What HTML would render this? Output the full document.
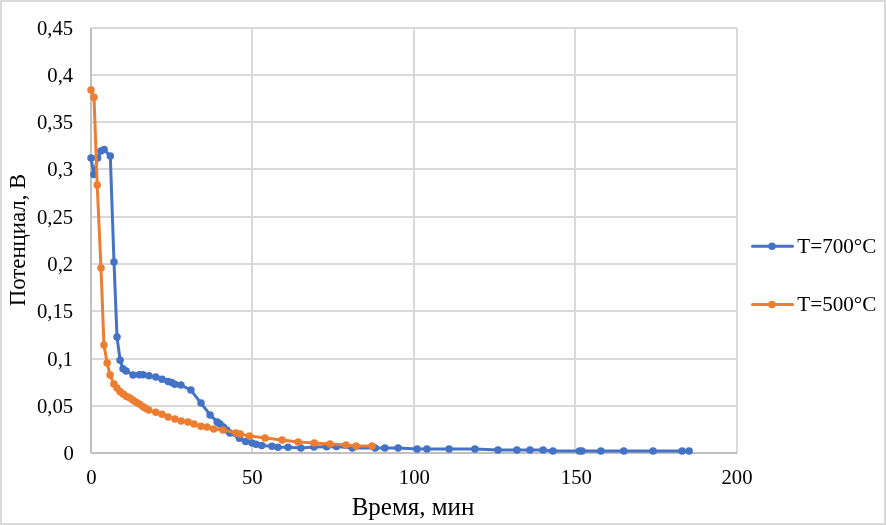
<!DOCTYPE html>
<html lang="ru">
<head>
<meta charset="utf-8">
<title>Потенциал — Время</title>
<style>
html,body{margin:0;padding:0;background:#fff;}
body{width:886px;height:525px;overflow:hidden;}
svg{display:block;will-change:transform;}
.txt{filter:grayscale(1);}
text{font-family:"Liberation Serif",serif;fill:#000;}
.lab{font-size:20.7px;}
.xt{font-size:25px;}
.yt{font-size:22.8px;}
</style>
</head>
<body>
<svg width="886" height="525" viewBox="0 0 886 525">
<rect x="0" y="0" width="886" height="525" fill="#ffffff"/>
<rect x="1" y="1" width="884" height="523" fill="none" stroke="#d9d9d9" stroke-width="2"/>
<rect x="0" y="0" width="1" height="1" fill="#e6e6e6"/>
<g stroke="#d9d9d9" stroke-width="2" fill="none">
<line x1="91" y1="28" x2="737" y2="28"/>
<line x1="91" y1="75" x2="737" y2="75"/>
<line x1="91" y1="122" x2="737" y2="122"/>
<line x1="91" y1="169" x2="737" y2="169"/>
<line x1="91" y1="217" x2="737" y2="217"/>
<line x1="91" y1="264" x2="737" y2="264"/>
<line x1="91" y1="311" x2="737" y2="311"/>
<line x1="91" y1="359" x2="737" y2="359"/>
<line x1="91" y1="406" x2="737" y2="406"/>
<line x1="252" y1="27" x2="252" y2="453"/>
<line x1="414" y1="27" x2="414" y2="453"/>
<line x1="575" y1="27" x2="575" y2="453"/>
<line x1="737" y1="28" x2="737" y2="453"/>
</g>
<g stroke="#bfbfbf" stroke-width="2" fill="none">
<line x1="91" y1="28" x2="91" y2="453"/>
<line x1="91" y1="453" x2="737" y2="453"/>
</g>
<g fill="#4472c4" stroke="none">
<polyline points="91,158 93.9,174.5 97.6,158 100.9,151 104.1,149.6 110.3,156 114,262.1 117,337.05 120.1,360.2 123,368.8 126.1,370.9 133,375 139.2,374.8 143,374.8 149,375.8 155.8,377 162.1,379.3 168.1,381.6 171.8,382.5 174.9,384.2 180.9,385 190.9,390.1 201,403.1 210.1,414.9 217.2,421.9 220,424 223.4,426.9 226.7,430 229.9,433.1 239.4,438.3 245.7,441.4 252,442.9 256,444.3 261.7,445.4 272,446.3 277.9,447.2 288,447.2 300.9,448.1 314,447 326.6,446.8 336.3,446.5 352.3,448.1 375.1,448.1 384.8,448 398.1,448 417.1,448.9 426.9,448.9 449.1,448.9 474.9,448.9 498,450.1 516.9,450.1 530,450.1 543.1,450.1 552.9,451 579.4,451 581.9,451 600.9,451 623.8,451 653.1,451 682.1,451 689.1,451" fill="none" stroke="#4472c4" stroke-width="3" stroke-linejoin="round" stroke-linecap="round"/>
<circle cx="91" cy="158" r="3.75"/><circle cx="93.9" cy="174.5" r="3.75"/><circle cx="97.6" cy="158" r="3.75"/><circle cx="100.9" cy="151" r="3.75"/><circle cx="104.1" cy="149.6" r="3.75"/><circle cx="110.3" cy="156" r="3.75"/><circle cx="114" cy="262.1" r="3.75"/><circle cx="117" cy="337.05" r="3.75"/><circle cx="120.1" cy="360.2" r="3.75"/><circle cx="123" cy="368.8" r="3.75"/><circle cx="126.1" cy="370.9" r="3.75"/><circle cx="133" cy="375" r="3.75"/><circle cx="139.2" cy="374.8" r="3.75"/><circle cx="143" cy="374.8" r="3.75"/><circle cx="149" cy="375.8" r="3.75"/><circle cx="155.8" cy="377" r="3.75"/><circle cx="162.1" cy="379.3" r="3.75"/><circle cx="168.1" cy="381.6" r="3.75"/><circle cx="171.8" cy="382.5" r="3.75"/><circle cx="174.9" cy="384.2" r="3.75"/><circle cx="180.9" cy="385" r="3.75"/><circle cx="190.9" cy="390.1" r="3.75"/><circle cx="201" cy="403.1" r="3.75"/><circle cx="210.1" cy="414.9" r="3.75"/><circle cx="217.2" cy="421.9" r="3.75"/><circle cx="220" cy="424" r="3.75"/><circle cx="223.4" cy="426.9" r="3.75"/><circle cx="226.7" cy="430" r="3.75"/><circle cx="229.9" cy="433.1" r="3.75"/><circle cx="239.4" cy="438.3" r="3.75"/><circle cx="245.7" cy="441.4" r="3.75"/><circle cx="252" cy="442.9" r="3.75"/><circle cx="256" cy="444.3" r="3.75"/><circle cx="261.7" cy="445.4" r="3.75"/><circle cx="272" cy="446.3" r="3.75"/><circle cx="277.9" cy="447.2" r="3.75"/><circle cx="288" cy="447.2" r="3.75"/><circle cx="300.9" cy="448.1" r="3.75"/><circle cx="314" cy="447" r="3.75"/><circle cx="326.6" cy="446.8" r="3.75"/><circle cx="336.3" cy="446.5" r="3.75"/><circle cx="352.3" cy="448.1" r="3.75"/><circle cx="375.1" cy="448.1" r="3.75"/><circle cx="384.8" cy="448" r="3.75"/><circle cx="398.1" cy="448" r="3.75"/><circle cx="417.1" cy="448.9" r="3.75"/><circle cx="426.9" cy="448.9" r="3.75"/><circle cx="449.1" cy="448.9" r="3.75"/><circle cx="474.9" cy="448.9" r="3.75"/><circle cx="498" cy="450.1" r="3.75"/><circle cx="516.9" cy="450.1" r="3.75"/><circle cx="530" cy="450.1" r="3.75"/><circle cx="543.1" cy="450.1" r="3.75"/><circle cx="552.9" cy="451" r="3.75"/><circle cx="579.4" cy="451" r="3.75"/><circle cx="581.9" cy="451" r="3.75"/><circle cx="600.9" cy="451" r="3.75"/><circle cx="623.8" cy="451" r="3.75"/><circle cx="653.1" cy="451" r="3.75"/><circle cx="682.1" cy="451" r="3.75"/><circle cx="689.1" cy="451" r="3.75"/>
</g>
<g fill="#ed7d31" stroke="none">
<polyline points="91,90.1 94,97.2 97.2,185.05 101,268.1 103.95,345.05 107.15,363.1 110.05,375 113.9,384 117,388.1 120.1,391.8 123.4,394.2 126.6,396.4 130,398.1 133.1,400.2 136.1,402.2 139.3,404 142.7,406.5 145.6,408.2 148.7,410.1 155.8,412.2 162,414.2 168.1,416.9 174.9,418.9 181.2,421.1 188,422 194,424.1 200.9,426.2 207,427 213.7,429 222.9,429.9 236,432.9 240.2,434.1 249.4,436 265.1,437.9 282.1,440 298.1,442 314.2,443 330,444.1 346,445.1 356.1,445.9 372.1,446.1" fill="none" stroke="#ed7d31" stroke-width="3" stroke-linejoin="round" stroke-linecap="round"/>
<circle cx="91" cy="90.1" r="3.75"/><circle cx="94" cy="97.2" r="3.75"/><circle cx="97.2" cy="185.05" r="3.75"/><circle cx="101" cy="268.1" r="3.75"/><circle cx="103.95" cy="345.05" r="3.75"/><circle cx="107.15" cy="363.1" r="3.75"/><circle cx="110.05" cy="375" r="3.75"/><circle cx="113.9" cy="384" r="3.75"/><circle cx="117" cy="388.1" r="3.75"/><circle cx="120.1" cy="391.8" r="3.75"/><circle cx="123.4" cy="394.2" r="3.75"/><circle cx="126.6" cy="396.4" r="3.75"/><circle cx="130" cy="398.1" r="3.75"/><circle cx="133.1" cy="400.2" r="3.75"/><circle cx="136.1" cy="402.2" r="3.75"/><circle cx="139.3" cy="404" r="3.75"/><circle cx="142.7" cy="406.5" r="3.75"/><circle cx="145.6" cy="408.2" r="3.75"/><circle cx="148.7" cy="410.1" r="3.75"/><circle cx="155.8" cy="412.2" r="3.75"/><circle cx="162" cy="414.2" r="3.75"/><circle cx="168.1" cy="416.9" r="3.75"/><circle cx="174.9" cy="418.9" r="3.75"/><circle cx="181.2" cy="421.1" r="3.75"/><circle cx="188" cy="422" r="3.75"/><circle cx="194" cy="424.1" r="3.75"/><circle cx="200.9" cy="426.2" r="3.75"/><circle cx="207" cy="427" r="3.75"/><circle cx="213.7" cy="429" r="3.75"/><circle cx="222.9" cy="429.9" r="3.75"/><circle cx="236" cy="432.9" r="3.75"/><circle cx="240.2" cy="434.1" r="3.75"/><circle cx="249.4" cy="436" r="3.75"/><circle cx="265.1" cy="437.9" r="3.75"/><circle cx="282.1" cy="440" r="3.75"/><circle cx="298.1" cy="442" r="3.75"/><circle cx="314.2" cy="443" r="3.75"/><circle cx="330" cy="444.1" r="3.75"/><circle cx="346" cy="445.1" r="3.75"/><circle cx="356.1" cy="445.9" r="3.75"/><circle cx="372.1" cy="446.1" r="3.75"/>
</g>
<g class="txt">
<g class="lab" text-anchor="end">
<text x="73.2" y="34.9">0,45</text>
<text x="73.2" y="81.9">0,4</text>
<text x="73.2" y="128.9">0,35</text>
<text x="73.2" y="175.9">0,3</text>
<text x="73.2" y="223.9">0,25</text>
<text x="73.2" y="270.9">0,2</text>
<text x="73.2" y="317.9">0,15</text>
<text x="73.2" y="365.9">0,1</text>
<text x="73.2" y="412.9">0,05</text>
<text x="73.9" y="459.9">0</text>
</g>
<g class="lab" text-anchor="middle">
<text x="91.3" y="483.6">0</text>
<text x="252.3" y="483.6">50</text>
<text x="414.3" y="483.6">100</text>
<text x="576.3" y="483.6">150</text>
<text x="737" y="483.6">200</text>
</g>
<text class="xt" text-anchor="middle" x="413" y="514.5">Время, мин</text>
<text class="yt" text-anchor="middle" transform="translate(25.0,240.0) rotate(-90)">Потенциал, В</text>
<text class="lab" x="797.3" y="252.6" textLength="79.1" lengthAdjust="spacingAndGlyphs">T=700°C</text>
<text class="lab" x="797.3" y="310.6" textLength="79.1" lengthAdjust="spacingAndGlyphs">T=500°C</text>
</g>
<line x1="752.5" y1="246.2" x2="792.5" y2="246.2" stroke="#4472c4" stroke-width="3" stroke-linecap="round"/>
<circle cx="772" cy="246.2" r="3.75" fill="#4472c4"/>
<line x1="752.5" y1="304.4" x2="792.5" y2="304.4" stroke="#ed7d31" stroke-width="3" stroke-linecap="round"/>
<circle cx="772" cy="304.4" r="3.75" fill="#ed7d31"/>
</svg>
</body>
</html>
